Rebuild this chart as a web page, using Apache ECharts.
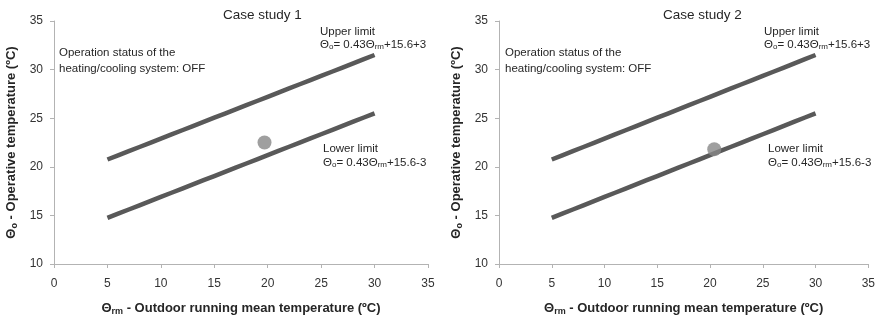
<!DOCTYPE html>
<html><head><meta charset="utf-8">
<script src="https://cdn.jsdelivr.net/npm/echarts@6/dist/echarts.min.js"></script>
<style>html,body{margin:0;padding:0;background:#fff}#c{width:878px;height:321px}</style>
</head><body><div id="c"></div>
<script>
// Data
const xTemps = [5,6,7,8,9,10,11,12,13,14,15,16,17,18,19,20,21,22,23,24,25,26,27,28,29,30];
const upperLimit = [20.75,21.18,21.61,22.04,22.47,22.90,23.33,23.76,24.19,24.62,25.05,25.48,25.91,26.34,26.77,27.20,27.63,28.06,28.49,28.92,29.35,29.78,30.21,30.64,31.07,31.50];
const lowerLimit = [14.75,15.18,15.61,16.04,16.47,16.90,17.33,17.76,18.19,18.62,19.05,19.48,19.91,20.34,20.77,21.20,21.63,22.06,22.49,22.92,23.35,23.78,24.21,24.64,25.07,25.50];
const case1Point = [19.7, 22.5];
const case2Point = [20.4, 21.8];
const titles = ['Case study 1', 'Case study 2'];
const xTicks = [0,5,10,15,20,25,30,35];
const yTicks = [10,15,20,25,30,35];

const FONT = '"Liberation Sans", Arial, sans-serif';
const lineColor = '#595959';
const axisColor = '#b3b3b3';
const textColor = '#262626';

const pair = (xs, ys) => xs.map((x, i) => [x, ys[i]]);

const grids = [
  {left: 54, right: 450, top: 21, bottom: 51},
  {left: 499, right: 6, top: 21, bottom: 51}
];

function xAxis(i) {
  return {
    gridIndex: i, type: 'value', min: xTicks[0], max: xTicks[xTicks.length - 1], interval: 5,
    splitLine: {show: false},
    axisLine: {lineStyle: {color: axisColor, width: 1}},
    axisTick: {show: true, inside: false, length: 4, lineStyle: {color: axisColor}},
    axisLabel: {color: '#333', fontFamily: FONT, fontSize: 12, margin: 14},
    name: 'Θ{sub|rm} - Outdoor running mean temperature (ºC)',
    nameLocation: 'middle', nameGap: 37,
    nameTextStyle: {
      color: textColor, fontFamily: FONT, fontSize: 13, fontWeight: 'bold',
      rich: {sub: {fontSize: 9, fontWeight: 'bold', color: textColor, fontFamily: FONT, verticalAlign: 'bottom', padding: [6,0,0,0]}}
    }
  };
}
function yAxis(i) {
  return {
    gridIndex: i, type: 'value', min: yTicks[0], max: yTicks[yTicks.length - 1], interval: 5,
    splitLine: {show: false},
    axisLine: {show: true, lineStyle: {color: axisColor, width: 1}},
    axisTick: {show: true, inside: false, length: 4, lineStyle: {color: axisColor}},
    axisLabel: {color: '#333', fontFamily: FONT, fontSize: 12, margin: 11},
    name: 'Θ{sub|o} - Operative temperature (ºC)',
    nameLocation: 'middle', nameGap: 35, nameRotate: 90,
    nameTextStyle: {
      color: textColor, fontFamily: FONT, fontSize: 13, fontWeight: 'bold',
      rich: {sub: {fontSize: 9, fontWeight: 'bold', color: textColor, fontFamily: FONT, verticalAlign: 'bottom', padding: [6,0,0,0]}}
    }
  };
}

function lineSeries(i, data) {
  return {
    type: 'line', xAxisIndex: i, yAxisIndex: i, data: data,
    showSymbol: false, symbol: 'none', silent: true,
    lineStyle: {color: lineColor, width: 4.5}, z: 2
  };
}
function pointSeries(i, p) {
  return {
    type: 'scatter', xAxisIndex: i, yAxisIndex: i, data: [p],
    symbol: 'circle', symbolSize: 14, itemStyle: {color: '#878787'}, z: 3
  };
}

function txt(x, y, lines) {
  return {type: 'text', left: x, top: y, style: {text: lines, font: '11.5px ' + FONT, fill: textColor, lineHeight: 16}};
}
function eqText(x, y, sign) {
  return {type: 'text', left: x, top: y, style: {
    text: '{n|Θ}{s|o}{n|= 0.43Θ}{s|rm}{n|+15.6' + sign + '3}',
    rich: {
      n: {fontSize: 11.5, fontFamily: FONT, fill: textColor, height: 14, verticalAlign: 'bottom'},
      s: {fontSize: 8, fontFamily: FONT, fill: textColor, height: 14, verticalAlign: 'bottom', padding: [0,0,-2,0]}
    }
  }};
}

const chart = echarts.init(document.getElementById('c'), null, {renderer: 'canvas'});
chart.setOption({
  animation: false,
  backgroundColor: '#fff',
  title: [
    {text: titles[0], left: 218, top: 3, textStyle: {fontFamily: FONT, fontSize: 13.5, fontWeight: 'normal', color: textColor}},
    {text: titles[1], left: 658, top: 3, textStyle: {fontFamily: FONT, fontSize: 13.5, fontWeight: 'normal', color: textColor}}
  ],
  grid: grids,
  xAxis: [xAxis(0), xAxis(1)],
  yAxis: [yAxis(0), yAxis(1)],
  series: [
    lineSeries(0, pair(xTemps, upperLimit)),
    lineSeries(0, pair(xTemps, lowerLimit)),
    pointSeries(0, case1Point),
    lineSeries(1, pair(xTemps, upperLimit)),
    lineSeries(1, pair(xTemps, lowerLimit)),
    pointSeries(1, case2Point)
  ],
  graphic: [
    txt(320, 24, 'Upper limit'),
    eqText(320, 39, '+'),
    txt(59, 45, 'Operation status of the\nheating/cooling system: OFF'),
    txt(323, 141, 'Lower limit'),
    eqText(323, 157, '-'),
    txt(764, 24, 'Upper limit'),
    eqText(764, 39, '+'),
    txt(505, 45, 'Operation status of the\nheating/cooling system: OFF'),
    txt(768, 141, 'Lower limit'),
    eqText(768, 157, '-')
  ]
});
</script></body></html>
